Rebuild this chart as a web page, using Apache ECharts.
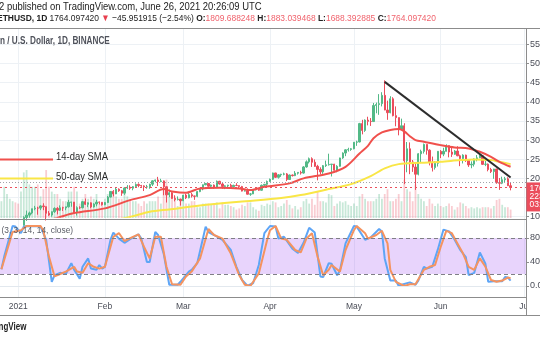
<!DOCTYPE html>
<html><head><meta charset="utf-8">
<script src="https://cdn.jsdelivr.net/npm/echarts@6/dist/echarts.min.js"></script>
<style>html,body{margin:0;padding:0;background:#fff}#c{width:540px;height:340px}</style>
</head><body><div id="c"></div>
<script>
// ---------- data ----------
const firstDayUTC = [2020, 11, 26];   // Dec 26, 2020
const dayCount = 188;                 // through Jul 1, 2021
const monthNames = ['Jan','Feb','Mar','Apr','May','Jun','Jul','Aug','Sep','Oct','Nov','Dec'];

// daily candles [open, close, low, high], Dec 26 2020 .. Jun 26 2021
const candles = [
[635,636,620,647],[636,683,629,775],[683,731,683,745],[731,732,692,740],[732,752,718,754],[752,737,717,754],
[737,730,714,750],[730,775,715,787],[775,979,768,1011],[979,1041,890,1160],[1041,1099,975,1132],[1099,1208,1064,1209],
[1208,1225,1167,1282],[1225,1224,1052,1260],[1224,1281,1172,1300],[1281,1262,1170,1350],[1262,1090,900,1263],
[1090,1043,1020,1147],[1043,1130,1000,1135],[1130,1218,1100,1245],[1218,1171,1060,1250],[1171,1233,1150,1295],
[1233,1230,1150,1260],[1230,1257,1170,1260],[1257,1377,1240,1440],[1377,1382,1260,1390],[1382,1121,1100,1385],
[1121,1236,1030,1270],[1236,1233,1205,1270],[1233,1392,1220,1410],[1392,1324,1305,1475],[1324,1362,1250,1375],
[1362,1253,1220,1375],[1253,1331,1240,1350],[1331,1381,1270,1440],[1381,1377,1320,1395],[1377,1314,1290,1380],
[1314,1370,1300,1380],[1370,1512,1360,1540],[1512,1660,1503,1665],[1660,1594,1530,1695],[1594,1718,1590,1755],
[1718,1677,1650,1740],[1677,1614,1545,1700],[1614,1750,1570,1770],[1750,1770,1720,1825],[1770,1744,1700,1820],
[1744,1784,1690,1800],[1784,1843,1770,1870],[1843,1814,1770,1870],[1814,1804,1780,1830],[1804,1779,1670,1820],
[1779,1781,1730,1830],[1781,1848,1730,1860],[1848,1937,1800,1950],[1937,1960,1900,1970],[1960,1919,1800,2040],
[1919,1935,1900,1990],[1935,1781,1560,1945],[1781,1570,1370,1790],[1570,1626,1510,1710],[1626,1475,1465,1670],
[1475,1446,1400,1560],[1446,1459,1425,1530],[1459,1416,1290,1470],
[1416,1564,1405,1570],[1564,1492,1460,1600],[1492,1575,1480,1650],[1575,1541,1500,1620],[1541,1533,1440,1545],
[1533,1655,1510,1670],[1655,1723,1640,1740],[1723,1834,1690,1840],[1834,1868,1820,1880],[1868,1795,1780,1880],
[1795,1825,1755,1840],[1825,1772,1730,1840],[1772,1924,1765,1945],[1924,1854,1840,1935],[1854,1791,1730,1880],
[1791,1806,1720,1820],[1806,1823,1740,1835],[1823,1782,1765,1860],[1782,1818,1760,1835],[1818,1812,1805,1875],
[1812,1786,1730,1815],[1786,1668,1660,1805],[1668,1678,1660,1725],[1678,1587,1580,1740],[1587,1595,1545,1620],
[1595,1700,1590,1705],[1700,1715,1690,1735],[1715,1691,1675,1720],[1691,1819,1680,1840],[1819,1846,1790,1850],
[1846,1919,1780,1945],
[1919,1977,1910,1995],[1977,2142,1960,2150],[2142,2028,2010,2145],[2028,2093,1995,2110],[2093,2108,2040,2120],
[2108,2118,2080,2150],[2118,1971,1930,2140],[1971,2088,1960,2100],[2088,2072,2050,2100],[2072,2136,2060,2190],
[2136,2157,2100,2160],[2157,2139,2100,2200],[2139,2299,2125,2320],[2299,2432,2280,2470],[2432,2514,2390,2545],
[2514,2422,2300,2550],[2422,2315,2300,2495],[2315,2235,1950,2355],[2235,2171,2105,2290],[2171,2333,2120,2350],
[2333,2355,2300,2465],[2355,2365,2335,2645],[2365,2372,2050,2375],[2372,2212,2200,2380],[2212,2316,2160,2345],
[2316,2534,2305,2540],[2534,2662,2510,2680],[2662,2746,2580,2760],[2746,2757,2700,2800],[2757,2773,2720,2790],
[2773,2945,2760,2950],[2945,2952,2850,2985],[2952,3431,2940,3450],[3431,3253,3150,3530],[3253,3522,3215,3540],
[3522,3490,3385,3610],[3490,3484,3370,3575],[3484,3902,3480,3970],[3902,3928,3700,3980],[3928,3952,3660,4200],
[3952,4168,3880,4250],[4168,3785,3780,4560],[3785,3715,3530,4030],[3715,4079,3700,4145],[4079,3638,3620,4120],
[3638,3587,3360,3880],[3587,3282,3125,3590],[3282,3374,3260,3560],[3374,2460,1850,3440],[2460,2773,2160,2950],
[2773,2430,2110,2940],[2430,2296,2170,2480],[2296,2109,1700,2380],[2109,2643,2080,2660],[2643,2706,2400,2750],
[2706,2888,2650,2910],[2888,2736,2620,2890],[2736,2424,2340,2760],[2424,2282,2180,2570],[2282,2395,2230,2450],
[2395,2707,2310,2710],
[2707,2634,2530,2740],[2634,2707,2580,2800],[2707,2856,2700,2890],[2856,2688,2550,2860],[2688,2630,2560,2815],
[2630,2715,2615,2740],[2715,2590,2580,2840],[2590,2517,2320,2620],[2517,2608,2390,2630],[2608,2472,2430,2620],
[2472,2353,2300,2490],[2353,2372,2265,2445],[2372,2508,2310,2520],[2508,2537,2445,2610],[2537,2590,2530,2640],
[2590,2367,2350,2595],[2367,2372,2320,2460],[2372,2231,2185,2390],[2231,2178,2140,2275],[2178,2245,1990,2250],
[2245,1888,1860,2250],[1888,1874,1700,2010],[1874,1965,1850,2045],[1965,1989,1880,2040],[1989,1810,1800,2030],
[1809.688248,1764.097420,1688.392885,1883.039468]
];

// daily volume (thousands), same days as candles
const volumes = [
700,1300,1000,800,700,650,
600,1100,1900,2000,1400,1300,1300,1400,900,1200,2000,1300,1100,1000,1000,800,700,700,1100,1100,1300,1100,600,800,1000,800,900,800,1000,600,600,
800,1000,1000,1100,900,800,800,1000,900,800,700,700,600,500,700,600,700,700,700,900,600,1300,1600,900,800,900,500,800,
700,600,600,700,700,450,450,600,600,600,550,600,650,400,650,550,550,500,450,350,400,550,500,650,650,450,350,300,550,500,600,
550,700,650,450,500,600,750,550,400,500,350,450,700,800,600,800,550,1100,700,700,650,1000,950,500,600,700,650,700,550,500,
600,500,900,1000,800,700,700,700,800,1000,800,1000,1200,700,700,800,1000,700,1600,1200,1100,700,1400,1000,800,700,500,800,600,500,600,
500,450,500,600,500,350,450,650,600,500,400,450,400,450,400,450,450,450,400,500,750,800,550,450,450,350
];

// 14-day SMA
const sma14 = [
['12-26',590],['01-05',780],['01-15',970],['01-21',1094],['02-01',1217],['02-10',1433],['02-17',1564],
['02-22',1720],['02-25',1660],['03-02',1625],['03-07',1739],['03-14',1755],['03-21',1739],['03-25',1695],
['03-30',1781],['04-08',1870],['04-13',2000],['04-22',2130],['04-28',2303],['05-03',2650],['05-06',2850],
['05-08',3050],['05-11',3200],['05-14',3265],['05-17',3290],['05-19',3230],['05-21',3100],['05-23',3000],
['05-26',2956],['06-01',2869],['06-06',2809],['06-11',2783],['06-15',2695],['06-19',2564],['06-22',2433],['06-26',2303]
];
// 50-day SMA
const sma50 = [
['12-26',520],['01-20',800],['02-08',963],['02-17',1128],['02-24',1191],['03-07',1290],['03-21',1389],
['04-05',1486],['04-12',1564],['04-22',1721],['04-30',1851],['05-07',2060],['05-12',2261],['05-17',2373],
['05-25',2407],['06-01',2433],['06-08',2478],['06-13',2496],['06-19',2478],['06-22',2433],['06-26',2373]
];

// Stoch RSI %K and %D
const stochK = [
['12-26',28],['12-27',49],['12-30',100],['12-31',99],['01-02',88],['01-03',99],['01-06',100],['01-09',99],
['01-11',77],['01-13',7],['01-14',18],['01-16',22],['01-18',20],['01-20',38],['01-21',27],['01-23',12],
['01-24',32],['01-26',46],['01-27',29],['01-29',27],['01-30',35],['01-31',29],['02-01',32],['02-03',77],
['02-04',89],['02-06',79],['02-08',72],['02-10',78],['02-13',86],['02-14',79],['02-16',40],['02-17',40],
['02-19',90],['02-20',85],['02-22',54],['02-24',2],['02-27',2],['02-28',7],['03-03',24],['03-04',27],
['03-06',38],['03-09',99],['03-10',90],['03-12',85],['03-15',77],['03-18',60],['03-20',32],['03-22',10],
['03-24',0],['03-26',5],['03-28',35],['03-30',88],['04-01',100],['04-03',99],['04-04',79],['04-06',82],
['04-09',62],['04-11',55],['04-13',72],['04-15',97],['04-17',89],['04-19',16],['04-20',15],['04-22',38],
['04-23',37],['04-25',18],['04-26',26],['04-28',71],['05-01',100],['05-02',99],['05-05',77],['05-07',81],
['05-10',95],['05-11',91],['05-12',46],['05-14',9],['05-16',9],['05-17',0],['05-18',2],['05-21',6],
['05-23',2],['05-24',9],['05-26',32],['05-27',29],['05-29',32],['05-31',61],['06-02',94],['06-04',91],
['06-06',77],['06-08',60],['06-10',48],['06-11',18],['06-13',22],['06-15',56],['06-17',37],['06-18',7],
['06-20',8],['06-23',8],['06-24',15],['06-25',14],['06-26',9]
];
const stochD = [
['12-26',28],['12-30',90],['01-02',93],['01-04',100],['01-09',100],['01-10',92],['01-12',49],['01-14',16],
['01-16',20],['01-18',24],['01-21',32],['01-22',24],['01-24',22],['01-26',38],['01-28',32],['01-30',29],
['02-01',32],['02-04',82],['02-06',88],['02-08',75],['02-11',82],['02-13',86],['02-15',65],['02-17',46],
['02-19',82],['02-21',82],['02-23',32],['02-25',3],['02-28',2],['03-02',16],['03-04',24],['03-07',46],
['03-10',95],['03-12',85],['03-15',79],['03-18',54],['03-21',18],['03-23',2],['03-25',0],['03-28',21],
['03-31',77],['04-01',93],['04-03',100],['04-05',79],['04-07',77],['04-10',60],['04-12',56],['04-14',79],
['04-16',88],['04-18',49],['04-20',18],['04-22',27],['04-23',35],['04-26',24],['04-28',60],['05-01',93],
['05-02',100],['05-05',88],['05-06',79],['05-09',85],['05-11',92],['05-13',71],['05-14',27],['05-16',7],
['05-19',0],['05-21',3],['05-23',3],['05-26',27],['05-28',32],['05-30',35],['06-01',65],['06-03',92],
['06-05',88],['06-07',71],['06-09',54],['06-11',32],['06-13',27],['06-15',46],['06-17',32],['06-19',10],
['06-21',7],['06-23',9],['06-25',14],['06-26',13]
];

const lastClose = 1764.097420;
const refLevel = 1905;
const trendLine = [['05-12', 4520], ['06-26', 2025]];
const priceTicks = {min: 1000, max: 6000, step: 500};
const stochTicks = {min: 0, max: 100, step: 40, upper: 80, lower: 20};

// ---------- build ----------
const categories = [];
const t0 = Date.UTC(firstDayUTC[0], firstDayUTC[1], firstDayUTC[2]);
for (let i = 0; i < dayCount; i++) {
  const d = new Date(t0 + i * 86400000);
  categories.push(String(d.getUTCMonth() + 1).padStart(2, '0') + '-' + String(d.getUTCDate()).padStart(2, '0'));
}
const isMonthStart = (i, v) => v.slice(3) === '01';
const monthLabel = v => v === '01-01' ? '2021' : monthNames[+v.slice(0, 2) - 1];

const UP = '#53b987', DOWN = '#eb4d5c';
const FONT = 'Liberation Sans, Arial, sans-serif';
const GRIDC = '#edf1f5';

const volData = volumes.map((v, i) => ({
  value: v,
  itemStyle: {color: candles[i][1] >= candles[i][0] ? 'rgba(83,185,135,0.32)' : 'rgba(235,77,92,0.28)'}
}));

const chart = echarts.init(document.getElementById('c'), null, {renderer: 'canvas'});
const gridBase = {left: 0, right: 14, containLabel: false, outerBoundsMode: 'none'};
const hiddenX = idx => ({type: 'category', gridIndex: idx, data: categories, show: false, boundaryGap: true});

chart.setOption({
  animation: false,
  backgroundColor: '#fff',
  textStyle: {fontFamily: FONT},
  grid: [
    Object.assign({top: 25.2, height: 191.5}, gridBase),   // 0 price
    Object.assign({top: 158, height: 60}, gridBase),       // 1 volume
    Object.assign({top: 226, height: 60}, gridBase),       // 2 stoch
    Object.assign({top: 28, height: 191}, gridBase),       // 3 price frame
    Object.assign({top: 219, height: 78}, gridBase)        // 4 stoch frame + time axis
  ],
  xAxis: [
    hiddenX(0), hiddenX(1), hiddenX(2),
    {type: 'category', gridIndex: 3, data: categories, boundaryGap: true,
     axisLine: {show: false}, axisTick: {show: false}, axisLabel: {show: false},
     splitLine: {show: true, interval: isMonthStart, alignWithLabel: true, lineStyle: {color: GRIDC, width: 1}}},
    {type: 'category', gridIndex: 4, data: categories, boundaryGap: true,
     axisLine: {show: false}, axisTick: {show: false},
     axisLabel: {show: true, interval: isMonthStart, formatter: monthLabel, margin: 5,
                 fontSize: 8.5, color: '#4a4d57', fontFamily: FONT},
     splitLine: {show: true, interval: isMonthStart, alignWithLabel: true, lineStyle: {color: GRIDC, width: 1}}}
  ],
  yAxis: [
    {type: 'value', gridIndex: 0, position: 'right', min: priceTicks.min, max: priceTicks.max, interval: priceTicks.step,
     axisLine: {show: false}, axisTick: {show: true, length: 3, lineStyle: {color: '#8f8f8f'}},
     axisLabel: {margin: 4, fontSize: 9, color: '#4a4d57', fontFamily: FONT, showMaxLabel: false,
                 formatter: v => v.toFixed(6)},
     splitLine: {show: true, lineStyle: {color: GRIDC}}},
    {type: 'value', gridIndex: 1, min: 0, max: 2500, show: false},
    {type: 'value', gridIndex: 2, position: 'right', min: stochTicks.min, max: stochTicks.max, interval: stochTicks.step,
     axisLine: {show: false}, axisTick: {show: true, length: 3, lineStyle: {color: '#8f8f8f'}},
     axisLabel: {margin: 4, fontSize: 9, color: '#4a4d57', fontFamily: FONT, showMaxLabel: false,
                 formatter: v => v.toFixed(2)},
     splitLine: {show: false}},
    {type: 'value', gridIndex: 3, show: false},
    {type: 'value', gridIndex: 4, show: false}
  ],
  series: [
    {type: 'bar', xAxisIndex: 1, yAxisIndex: 1, data: volData, barWidth: 1.8, silent: true},
    {type: 'candlestick', xAxisIndex: 0, yAxisIndex: 0, data: candles, barWidth: 1.8, clip: true,
     itemStyle: {color: UP, color0: DOWN, borderColor: UP, borderColor0: DOWN, borderWidth: 1},
     markLine: {silent: true, symbol: 'none', label: {show: false},
       data: [
         [{coord: trendLine[0]}, {coord: trendLine[1]}],
         {yAxis: lastClose, lineStyle: {color: DOWN, type: [2, 3], width: 1}},
         {yAxis: refLevel, lineStyle: {color: '#a0a3ab', type: [1, 2], width: 1}}
       ],
       lineStyle: {color: '#2d2d2d', width: 2, type: 'solid'}}},
    {type: 'line', xAxisIndex: 0, yAxisIndex: 0, data: sma50, showSymbol: false, smooth: 0.3, clip: true,
     lineStyle: {color: '#f9e646', width: 2}, silent: true},
    {type: 'line', xAxisIndex: 0, yAxisIndex: 0, data: sma14, showSymbol: false, smooth: 0.3, clip: true,
     lineStyle: {color: '#f0504c', width: 2}, silent: true},
    {type: 'line', xAxisIndex: 2, yAxisIndex: 2, data: stochK, showSymbol: false, silent: true,
     lineStyle: {color: '#5ea5f6', width: 2},
     markArea: {silent: true, itemStyle: {color: 'rgba(150,60,240,0.22)'},
       data: [[{yAxis: stochTicks.lower}, {yAxis: stochTicks.upper}]]},
     markLine: {silent: true, symbol: 'none', label: {show: false},
       lineStyle: {color: '#7f7f86', type: [4, 3], width: 1},
       data: [{yAxis: stochTicks.upper}, {yAxis: stochTicks.lower},
              {yAxis: 0, lineStyle: {color: '#e2e8ee', type: 'solid'}}]}},
    {type: 'line', xAxisIndex: 2, yAxisIndex: 2, data: stochD, showSymbol: false, silent: true,
     lineStyle: {color: '#f5935f', width: 2}}
  ]
});

// ---------- overlay text / frame ----------
const py = chart.convertToPixel({yAxisIndex: 0}, lastClose);
const BORDER = '#8c8c8c';
const txt = (x, y, text, size, opts) => Object.assign({
  type: 'text', x: x, y: y, z: 120,
  style: Object.assign({text: text, fontSize: size, fontFamily: FONT, fill: '#222', verticalAlign: 'middle'}, (opts && opts.style) || {})
}, opts && opts.scaleX ? {scaleX: opts.scaleX} : {});
const line = (x1, y1, x2, y2, color, w, z) => ({type: 'line', z: z || 110, silent: true,
  shape: {x1: x1, y1: y1, x2: x2, y2: y2}, style: {stroke: color, lineWidth: w}});

chart.setOption({
  graphic: {elements: [
    {type: 'rect', z: 100, shape: {x: 0, y: 0, width: 540, height: 28}, style: {fill: '#fff'}},
    {type: 'rect', z: 100, shape: {x: 527, y: 298, width: 13, height: 16.5}, style: {fill: '#fff'}},
    line(0, 28.5, 540, 28.5, BORDER, 1),
    line(526.5, 28, 526.5, 315, BORDER, 1),
    line(0, 219.5, 526, 219.5, BORDER, 1),
    line(0, 297.5, 526, 297.5, BORDER, 1),
    line(0, 315.5, 540, 315.5, BORDER, 1),
    txt(-1, 7.5, '2 published on TradingView.com, June 26, 2021 20:26:09 UTC', 10.5, {scaleX: 0.9}),
    {type: 'text', x: -3, y: 18.5, z: 120, scaleX: 0.89,
     style: {fontSize: 9.5, fontFamily: FONT, fill: '#222', verticalAlign: 'middle',
       text: '{b|ETHUSD, 1D} 1764.097420 {r|▼} −45.951915 (−2.54%) {b|O:}{v|1809.688248} {b|H:}{v|1883.039468} {b|L:}{v|1688.392885} {b|C:}{v|1764.097420}',
       rich: {b: {fontWeight: 'bold', fontSize: 9.5, fontFamily: FONT, fill: '#222'},
              r: {fill: '#e8404f', fontSize: 9.5, fontFamily: FONT},
              v: {fill: '#f0636d', fontSize: 9.5, fontFamily: FONT}}}},
    txt(0, 41, 'n / U.S. Dollar, 1D, BINANCE', 10, {scaleX: 0.82, style: {fontWeight: 'bold', fill: '#4f525b'}}),
    line(0, 159.5, 53, 159.5, '#f0504c', 2),
    txt(56, 157.5, '14-day SMA', 10.5, {scaleX: 0.9, style: {fill: '#2a2a2a'}}),
    line(0, 178.5, 53, 178.5, '#f9e646', 2),
    txt(56, 177, '50-day SMA', 10.5, {scaleX: 0.9, style: {fill: '#2a2a2a'}}),
    txt(1.5, 230.5, '(3, 3, 14, 14, close)', 9.5, {scaleX: 0.88, style: {fill: '#5a5d66'}}),
    txt(-1.5, 327.5, 'ngView', 10, {scaleX: 0.8, style: {fontWeight: 'bold', fill: '#222'}}),
    {type: 'rect', z: 115, shape: {x: 526.5, y: py - 5, width: 14, height: 29}, style: {fill: DOWN}},
    txt(529.5, py + 0.8, lastClose.toFixed(6), 8.5, {style: {fill: '#fff'}}),
    txt(529.5, py + 9.2, '223.612K', 8.5, {style: {fill: '#fff'}}),
    txt(529.5, py + 17, '03:33:51', 8.5, {style: {fill: '#fff'}})
  ]}
});
</script>
</body></html>
